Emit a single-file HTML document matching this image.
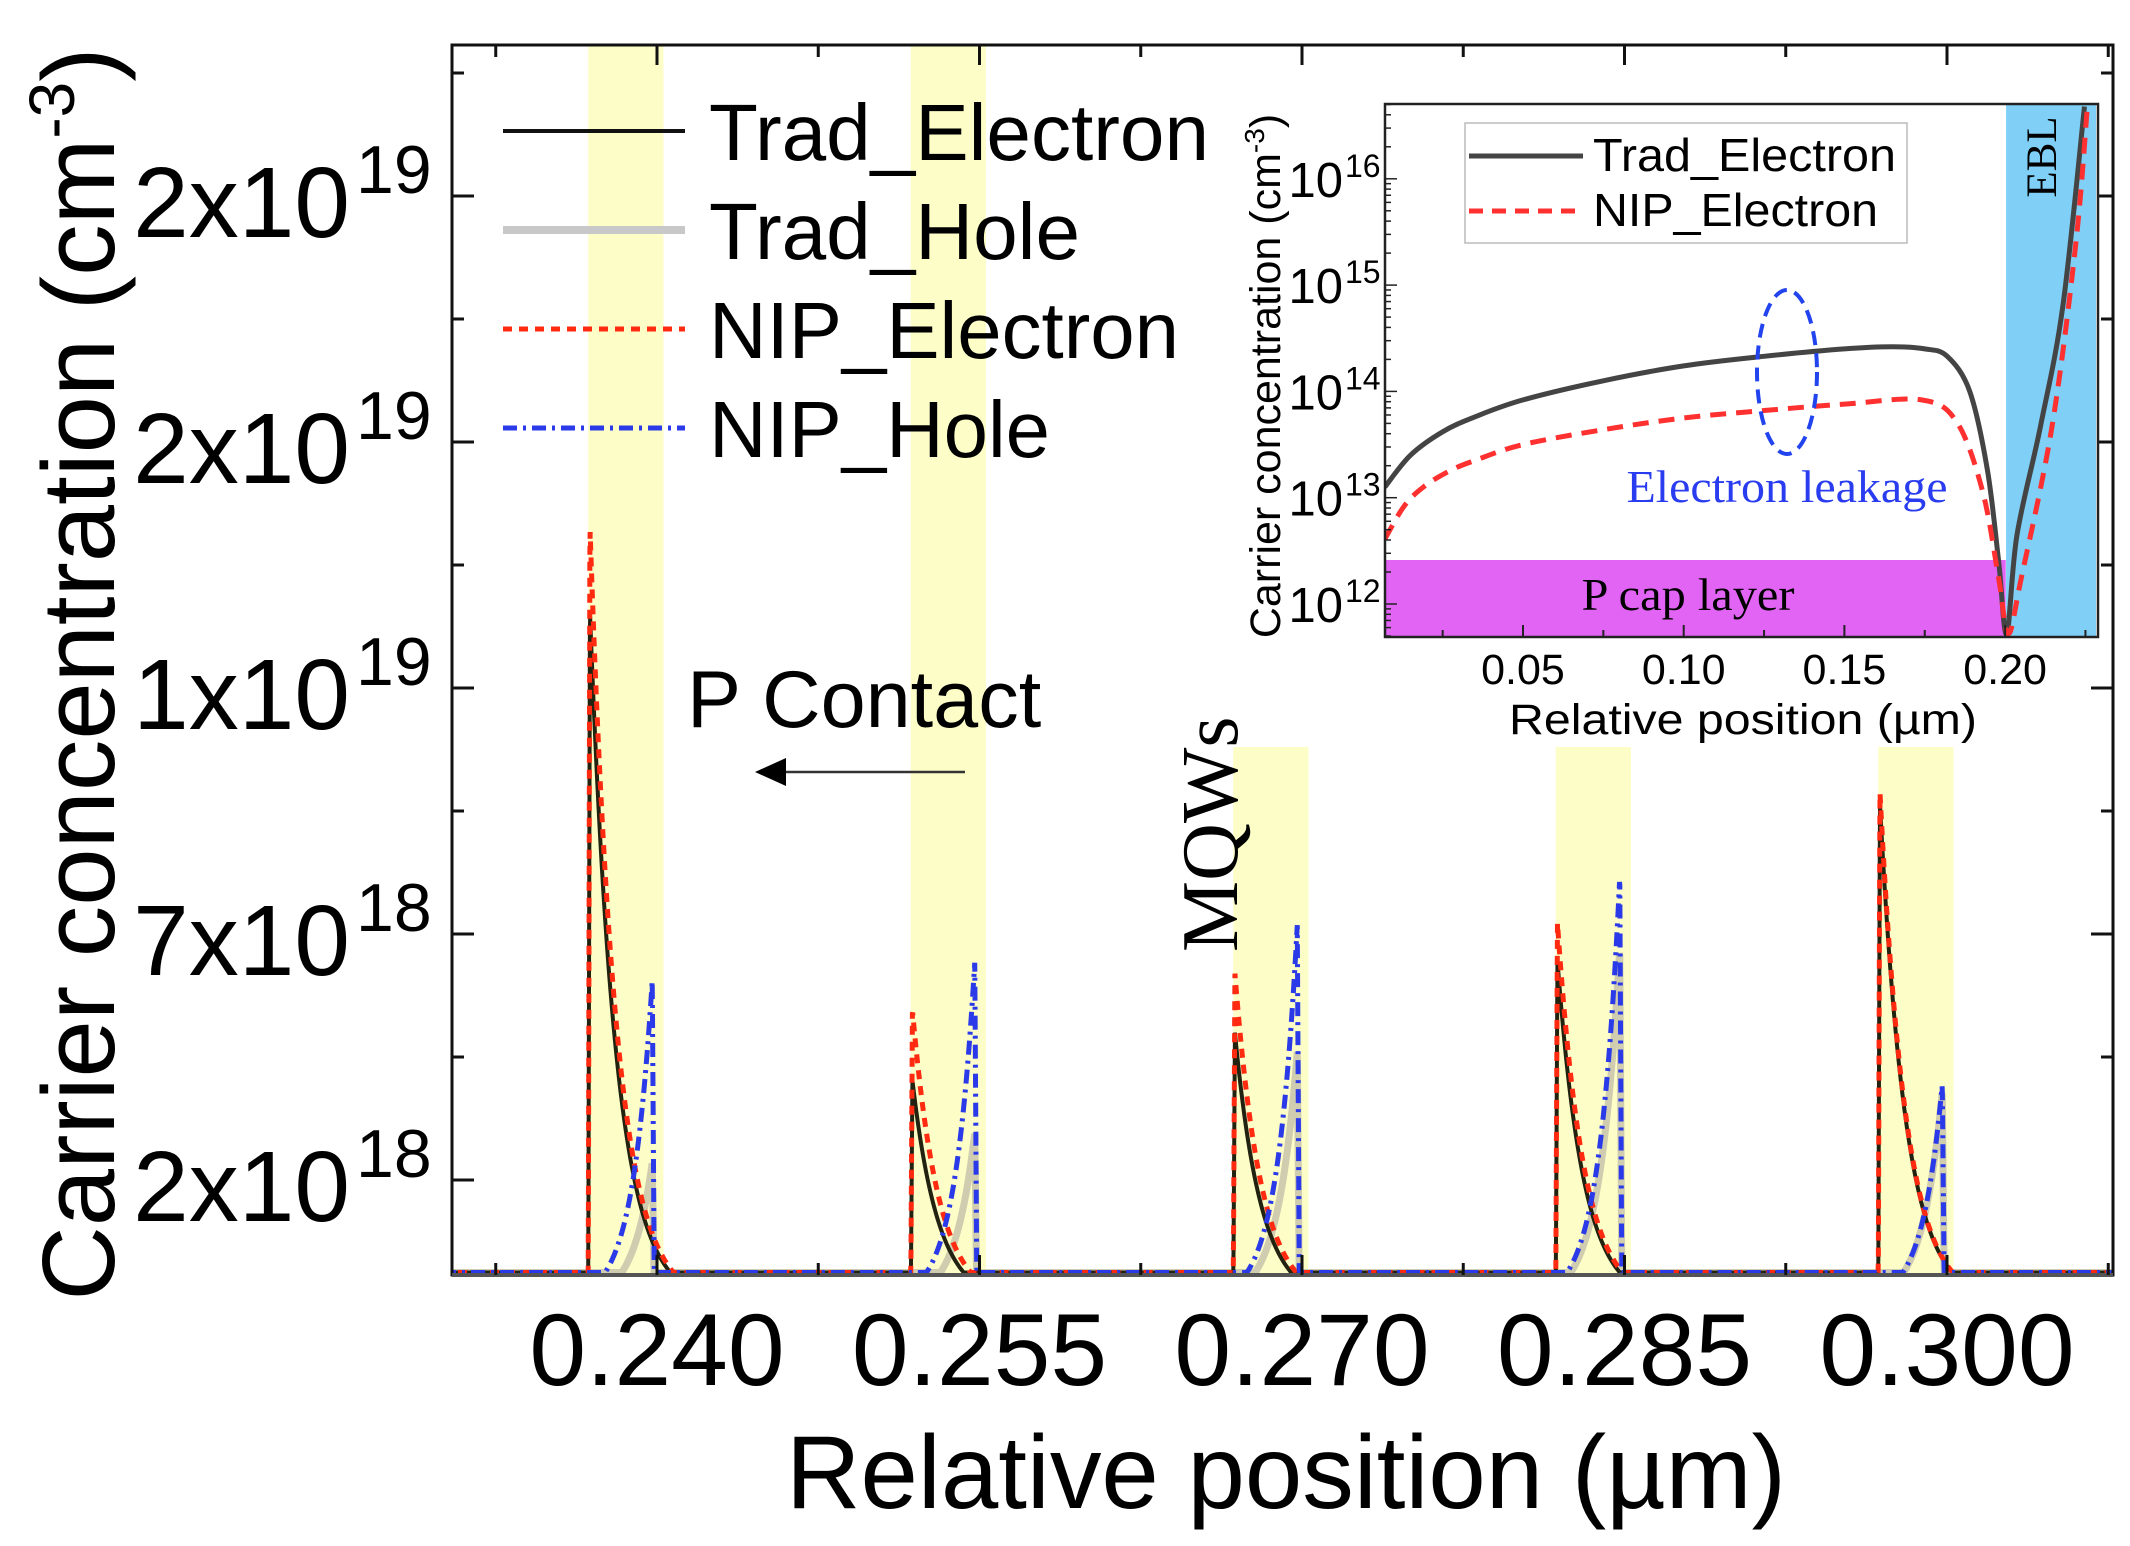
<!DOCTYPE html>
<html><head><meta charset="utf-8"><style>
html,body{margin:0;padding:0;background:#fff}
svg{display:block}
text{font-family:"Liberation Sans",sans-serif}
.serif{font-family:"Liberation Serif",serif}
</style></head><body>
<svg id="chart" width="2130" height="1546" viewBox="0 0 2130 1546" xmlns="http://www.w3.org/2000/svg">
<defs>
<clipPath id="mainClip"><rect x="452" y="45" width="1661" height="1230"/></clipPath>
<clipPath id="insetClip"><rect x="1385" y="104" width="713" height="533"/></clipPath>
</defs>
<rect x="0" y="0" width="2130" height="1546" fill="#fff"/>
<g id="bands"></g>
<g id="main" clip-path="url(#mainClip)"></g>
<g id="mainAxes"></g>
<g id="labels">
  <text x="687" y="727" font-size="81">P Contact</text>
  <line x1="965" y1="772" x2="780" y2="772" stroke="#333" stroke-width="2.5"/>
  <polygon points="755,772 786,758 786,786" fill="#000"/>
  <text class="serif" transform="translate(1237,952) rotate(-90)" font-size="80">MQWs</text>
</g>
<g id="legend"></g>
<g id="inset"></g>
</svg>
<script>
// ===== Main chart data =====
const bandStarts = [0.2368, 0.2518, 0.2668, 0.2818, 0.2968];
const bandWidth = 0.0035;
const nipElectronPeaks = [15.8, 5.96, 6.7, 7.74, 10.4];   // x1e18 cm^-3
const tradElectronPeaks = [14.07, 4.53, 5.5, 6.97, 10.16];
const nipHolePeaks = [6.57, 6.93, 7.68, 8.66, 4.45];
const tradHolePeaks = [2.85, 3.45, 5.1, 7.2, 4.3];
const xTicks = [0.240, 0.255, 0.270, 0.285, 0.300];
const xTickLabels = ["0.240", "0.255", "0.270", "0.285", "0.300"];
const yTicks = [2.5, 7.5, 12.5, 17.5, 22.5];
const yTickBase = ["2x10", "7x10", "1x10", "2x10", "2x10"];
const yTickExp = ["18", "18", "19", "19", "19"];
const legendNames = ["Trad_Electron", "Trad_Hole", "NIP_Electron", "NIP_Hole"];

// ===== Inset data =====
const insetTradX = [0.007,0.015,0.025,0.035,0.05,0.075,0.10,0.125,0.15,0.165,0.175,0.182,0.189,0.1945,0.198,0.2005,0.2037,0.211,0.218,0.2247];
const insetTradLog = [13.10,13.40,13.62,13.76,13.92,14.10,14.24,14.33,14.40,14.42,14.40,14.33,14.0,13.26,12.4,11.72,12.65,13.67,14.81,16.68];
const insetNipX = [0.007,0.013,0.019,0.027,0.035,0.05,0.075,0.10,0.125,0.15,0.174,0.185,0.193,0.198,0.201,0.205,0.2146,0.222,0.2256];
const insetNipLog = [12.61,12.92,13.10,13.25,13.35,13.5,13.64,13.75,13.82,13.88,13.92,13.71,13.06,12.24,11.72,12.24,13.67,15.39,16.68];
const insetXTicks = [0.05, 0.10, 0.15, 0.20];
const insetXTickLabels = ["0.05", "0.10", "0.15", "0.20"];
const insetYTicks = [12, 13, 14, 15, 16];
const insetLegendNames = ["Trad_Electron", "NIP_Electron"];

const NS = "http://www.w3.org/2000/svg";
function mk(tag, attrs, parent) {
  const e = document.createElementNS(NS, tag);
  for (const k in attrs) e.setAttribute(k, attrs[k]);
  parent.appendChild(e);
  return e;
}
const L = 452, R = 2113, T = 45, B = 1275;
const X = v => 657 + (v - 0.240) / 0.015 * 322.5;
const Y = v => 1180 - (v - 2.5) / 5 * 246;
const yMin = 2.5 - (B - 1180) / 246 * 5;

const bands = document.getElementById('bands');
bandStarts.forEach((s, i) => {
  const top = i < 2 ? T : 747;
  const r = mk('rect', {x: X(s), y: top, width: X(s + bandWidth) - X(s), height: B - top, fill: '#fdfdc8'}, bands);
  
  
});

function electronVal(x, i, peaks) {
  const s = bandStarts[i];
  if (x < s) return 0;
  const xp = s + 0.00008;
  if (x < xp) return peaks[i] * (x - s) / 0.00008;
  return peaks[i] * Math.exp(-(x - xp) / 0.0012);
}
function holeVal(x, i, peaks) {
  const xh = bandStarts[i] + 0.00298;
  if (x <= xh) return peaks[i] * Math.exp((x - xh) / 0.00093);
  if (x < xh + 0.0001) return peaks[i] * (1 - (x - xh) / 0.0001);
  return 0;
}
function seriesPath(fn, peaks) {
  let d = '';
  const x0 = 0.2300, x1 = 0.3080, n = 6000;
  for (let k = 0; k <= n; k++) {
    const x = x0 + (x1 - x0) * k / n;
    let v = 0;
    for (let i = 0; i < bandStarts.length; i++) {
      if (x > bandStarts[i] - 0.001 && x < bandStarts[i] + 0.008) v += fn(x, i, peaks);
    }
    v = Math.max(v, yMin + 0.05);
    d += (k ? 'L' : 'M') + X(x).toFixed(2) + ',' + Y(v).toFixed(2);
  }
  return d;
}
const main = document.getElementById('main');
const sTH = mk('path', {d: seriesPath(holeVal, tradHolePeaks), fill: 'none', stroke: '#cfccb0', 'stroke-width': 7}, main);


const sTE = mk('path', {d: seriesPath(electronVal, tradElectronPeaks), fill: 'none', stroke: '#222210', 'stroke-width': 4}, main);


const sNE = mk('path', {d: seriesPath(electronVal, nipElectronPeaks), fill: 'none', stroke: '#ff2a10', 'stroke-width': 5, 'stroke-dasharray': '9 7'}, main);


const sNH = mk('path', {d: seriesPath(holeVal, nipHolePeaks), fill: 'none', stroke: '#2a3ae8', 'stroke-width': 5, 'stroke-dasharray': '14 6 3 6'}, main);



const ax = document.getElementById('mainAxes');
const frame = mk('rect', {x: L, y: T, width: R - L, height: B - T, fill: 'none', stroke: '#111', 'stroke-width': 3}, ax);


const baseLine = mk('line', {x1: L, y1: B, x2: R, y2: B, stroke: '#555', 'stroke-width': 4}, ax);


for (let v = 0.2325; v < 0.308; v += 0.0075) {
  const major = Math.abs(((v - 0.240) / 0.015) - Math.round((v - 0.240) / 0.015)) < 0.01;
  const len = major ? 20 : 12;
  mk('line', {x1: X(v), y1: B, x2: X(v), y2: B - len, stroke: '#111', 'stroke-width': 3}, ax);
  mk('line', {x1: X(v), y1: T, x2: X(v), y2: T + len, stroke: '#111', 'stroke-width': 3}, ax);
}
xTicks.forEach((v, i) => {
  const t = mk('text', {x: X(v), y: 1385, 'font-size': 102, 'text-anchor': 'middle'}, ax);
  t.textContent = xTickLabels[i];
  
  
});
for (let v = 5; v <= 25; v += 2.5) {
  const major = yTicks.indexOf(v) >= 0;
  const len = major ? 22 : 12;
  mk('line', {x1: L, y1: Y(v), x2: L + len, y2: Y(v), stroke: '#111', 'stroke-width': 3}, ax);
  mk('line', {x1: R, y1: Y(v), x2: R - len, y2: Y(v), stroke: '#111', 'stroke-width': 3}, ax);
}
mk('line', {x1: L, y1: Y(2.5), x2: L + 22, y2: Y(2.5), stroke: '#111', 'stroke-width': 3}, ax);
yTicks.forEach((v, i) => {
  const t = mk('text', {x: 350, y: Y(v) + 41, 'font-size': 100, 'text-anchor': 'end'}, ax);
  t.textContent = yTickBase[i];
  
  
  const e = mk('text', {x: 356, y: Y(v) - 3, 'font-size': 68}, ax);
  e.textContent = yTickExp[i];
  
  
});
const xt = mk('text', {x: 1286, y: 1508, 'font-size': 104, 'text-anchor': 'middle', textLength: 1000, lengthAdjust: 'spacingAndGlyphs'}, ax);
xt.textContent = 'Relative position (µm)';


const yt = mk('text', {transform: 'translate(114,674) rotate(-90)', 'font-size': 103, 'text-anchor': 'middle'}, ax);
yt.innerHTML = 'Carrier concentration (cm<tspan dy="-40" font-size="64">-3</tspan><tspan dy="40">)</tspan>';



const lg = document.getElementById('legend');
const legStyles = [
  {stroke: '#111', 'stroke-width': 4},
  {stroke: '#c8c8c8', 'stroke-width': 8},
  {stroke: '#ff2a10', 'stroke-width': 5, 'stroke-dasharray': '9 7'},
  {stroke: '#2a3ae8', 'stroke-width': 5, 'stroke-dasharray': '14 6 3 6'}
];
const legWidths = [500, 371, 470, 341];
legendNames.forEach((n, i) => {
  const cy = 131 + i * 99;
  const ln = mk('line', Object.assign({x1: 503, y1: cy, x2: 685, y2: cy}, legStyles[i]), lg);
  
  
  const t = mk('text', {x: 709, y: cy + 29, 'font-size': 80, textLength: legWidths[i], lengthAdjust: 'spacingAndGlyphs'}, lg);
  t.textContent = n;
  
  
});

// ===== Inset =====
const iL = 1385, iR = 2098, iT = 104, iB = 637;
const X2 = v => 1523 + (v - 0.05) / 0.05 * 160.7;
const Y2 = lgv => 604 - (lgv - 12) * 106.3;
const ins = document.getElementById('inset');
const ibg = mk('rect', {x: iL, y: iT, width: iR - iL, height: iB - iT, fill: '#fff'}, ins);


const pcap = mk('rect', {x: iL, y: 560, width: X2(0.2002) - iL, height: iB - 560, fill: '#e264f5'}, ins);


const ebl = mk('rect', {x: X2(0.2003), y: iT, width: 2096 - X2(0.2003), height: iB - iT, fill: '#7fcff6'}, ins);


const ig = mk('g', {'clip-path': 'url(#insetClip)'}, ins);
function smooth(xs, ys) {
  const p = xs.map((x, i) => [X2(x), Y2(ys[i])]);
  let d = 'M' + p[0][0] + ',' + p[0][1];
  for (let i = 0; i < p.length - 1; i++) {
    const p0 = p[Math.max(0, i - 1)], p1 = p[i], p2 = p[i + 1], p3 = p[Math.min(p.length - 1, i + 2)];
    const c1 = [p1[0] + (p2[0] - p0[0]) / 6, p1[1] + (p2[1] - p0[1]) / 6];
    const c2 = [p2[0] - (p3[0] - p1[0]) / 6, p2[1] - (p3[1] - p1[1]) / 6];
    d += 'C' + c1.join(',') + ' ' + c2.join(',') + ' ' + p2.join(',');
  }
  return d;
}
const itr = mk('path', {d: smooth(insetTradX, insetTradLog), fill: 'none', stroke: '#444', 'stroke-width': 5}, ig);


const inp = mk('path', {d: smooth(insetNipX, insetNipLog), fill: 'none', stroke: '#ff3030', 'stroke-width': 5, 'stroke-dasharray': '16 10'}, ig);


const iframe = mk('rect', {x: iL, y: iT, width: iR - iL, height: iB - iT, fill: 'none', stroke: '#222', 'stroke-width': 2.5}, ins);


for (let v = 0.025; v < 0.229; v += 0.025) {
  const major = insetXTicks.some(t => Math.abs(t - v) < 1e-6);
  mk('line', {x1: X2(v), y1: iB, x2: X2(v), y2: iB - (major ? 12 : 7), stroke: '#222', 'stroke-width': 2}, ins);
}
insetXTicks.forEach((v, i) => {
  const t = mk('text', {x: X2(v), y: 684, 'font-size': 43, 'text-anchor': 'middle'}, ins);
  t.textContent = insetXTickLabels[i];
  
  
});
for (let dec = 11; dec <= 16; dec++) {
  for (let m = 1; m <= 9; m++) {
    const lv = dec + Math.log10(m);
    const y = Y2(lv);
    if (y < iT || y > iB) continue;
    mk('line', {x1: iL, y1: y, x2: iL + (m === 1 ? 12 : 6), y2: y, stroke: '#222', 'stroke-width': 1.5}, ins);
  }
}
insetYTicks.forEach(v => {
  const t = mk('text', {x: 1343, y: Y2(v) + 18, 'font-size': 49, 'text-anchor': 'end'}, ins);
  t.textContent = '10';
  
  
  const e = mk('text', {x: 1345, y: Y2(v) - 2, 'font-size': 32}, ins);
  e.textContent = String(v);
  
  
});
const ixt = mk('text', {x: 1743, y: 734, 'font-size': 43, 'text-anchor': 'middle', textLength: 468, lengthAdjust: 'spacingAndGlyphs'}, ins);
ixt.textContent = 'Relative position (µm)';


const iyt = mk('text', {transform: 'translate(1280,376) rotate(-90)', 'font-size': 43, 'text-anchor': 'middle'}, ins);
iyt.innerHTML = 'Carrier concentration (cm<tspan dy="-16" font-size="28">-3</tspan><tspan dy="16">)</tspan>';


const ilb = mk('rect', {x: 1465, y: 123, width: 442, height: 120, fill: '#fff', stroke: '#bbb', 'stroke-width': 1.5}, ins);


const iLegStyles = [{stroke: '#444', 'stroke-width': 5}, {stroke: '#ff3030', 'stroke-width': 5, 'stroke-dasharray': '14 9'}];
const iLegW = [303, 285];
insetLegendNames.forEach((n, i) => {
  const cy = 156 + i * 55;
  const l = mk('line', Object.assign({x1: 1469, y1: cy, x2: 1583, y2: cy}, iLegStyles[i]), ins);
  
  
  const t = mk('text', {x: 1593, y: cy + 15, 'font-size': 46, textLength: iLegW[i], lengthAdjust: 'spacingAndGlyphs'}, ins);
  t.textContent = n;
  
  
});
const ell = mk('ellipse', {cx: 1787, cy: 372, rx: 30, ry: 82, fill: 'none', stroke: '#2244ee', 'stroke-width': 4, 'stroke-dasharray': '14 8'}, ins);


const elt = mk('text', {x: 1787, y: 502, 'font-size': 46, 'text-anchor': 'middle', fill: '#2a3cf0', class: 'serif', textLength: 321, lengthAdjust: 'spacingAndGlyphs'}, ins);
elt.textContent = 'Electron leakage';


const pct = mk('text', {x: 1688, y: 610, 'font-size': 46, 'text-anchor': 'middle', fill: '#000', class: 'serif', textLength: 213, lengthAdjust: 'spacingAndGlyphs'}, ins);
pct.textContent = 'P cap layer';


const eblt = mk('text', {transform: 'translate(2056,157) rotate(-90)', 'font-size': 43, 'text-anchor': 'middle', class: 'serif'}, ins);
eblt.textContent = 'EBL';


</script>
</body></html>
